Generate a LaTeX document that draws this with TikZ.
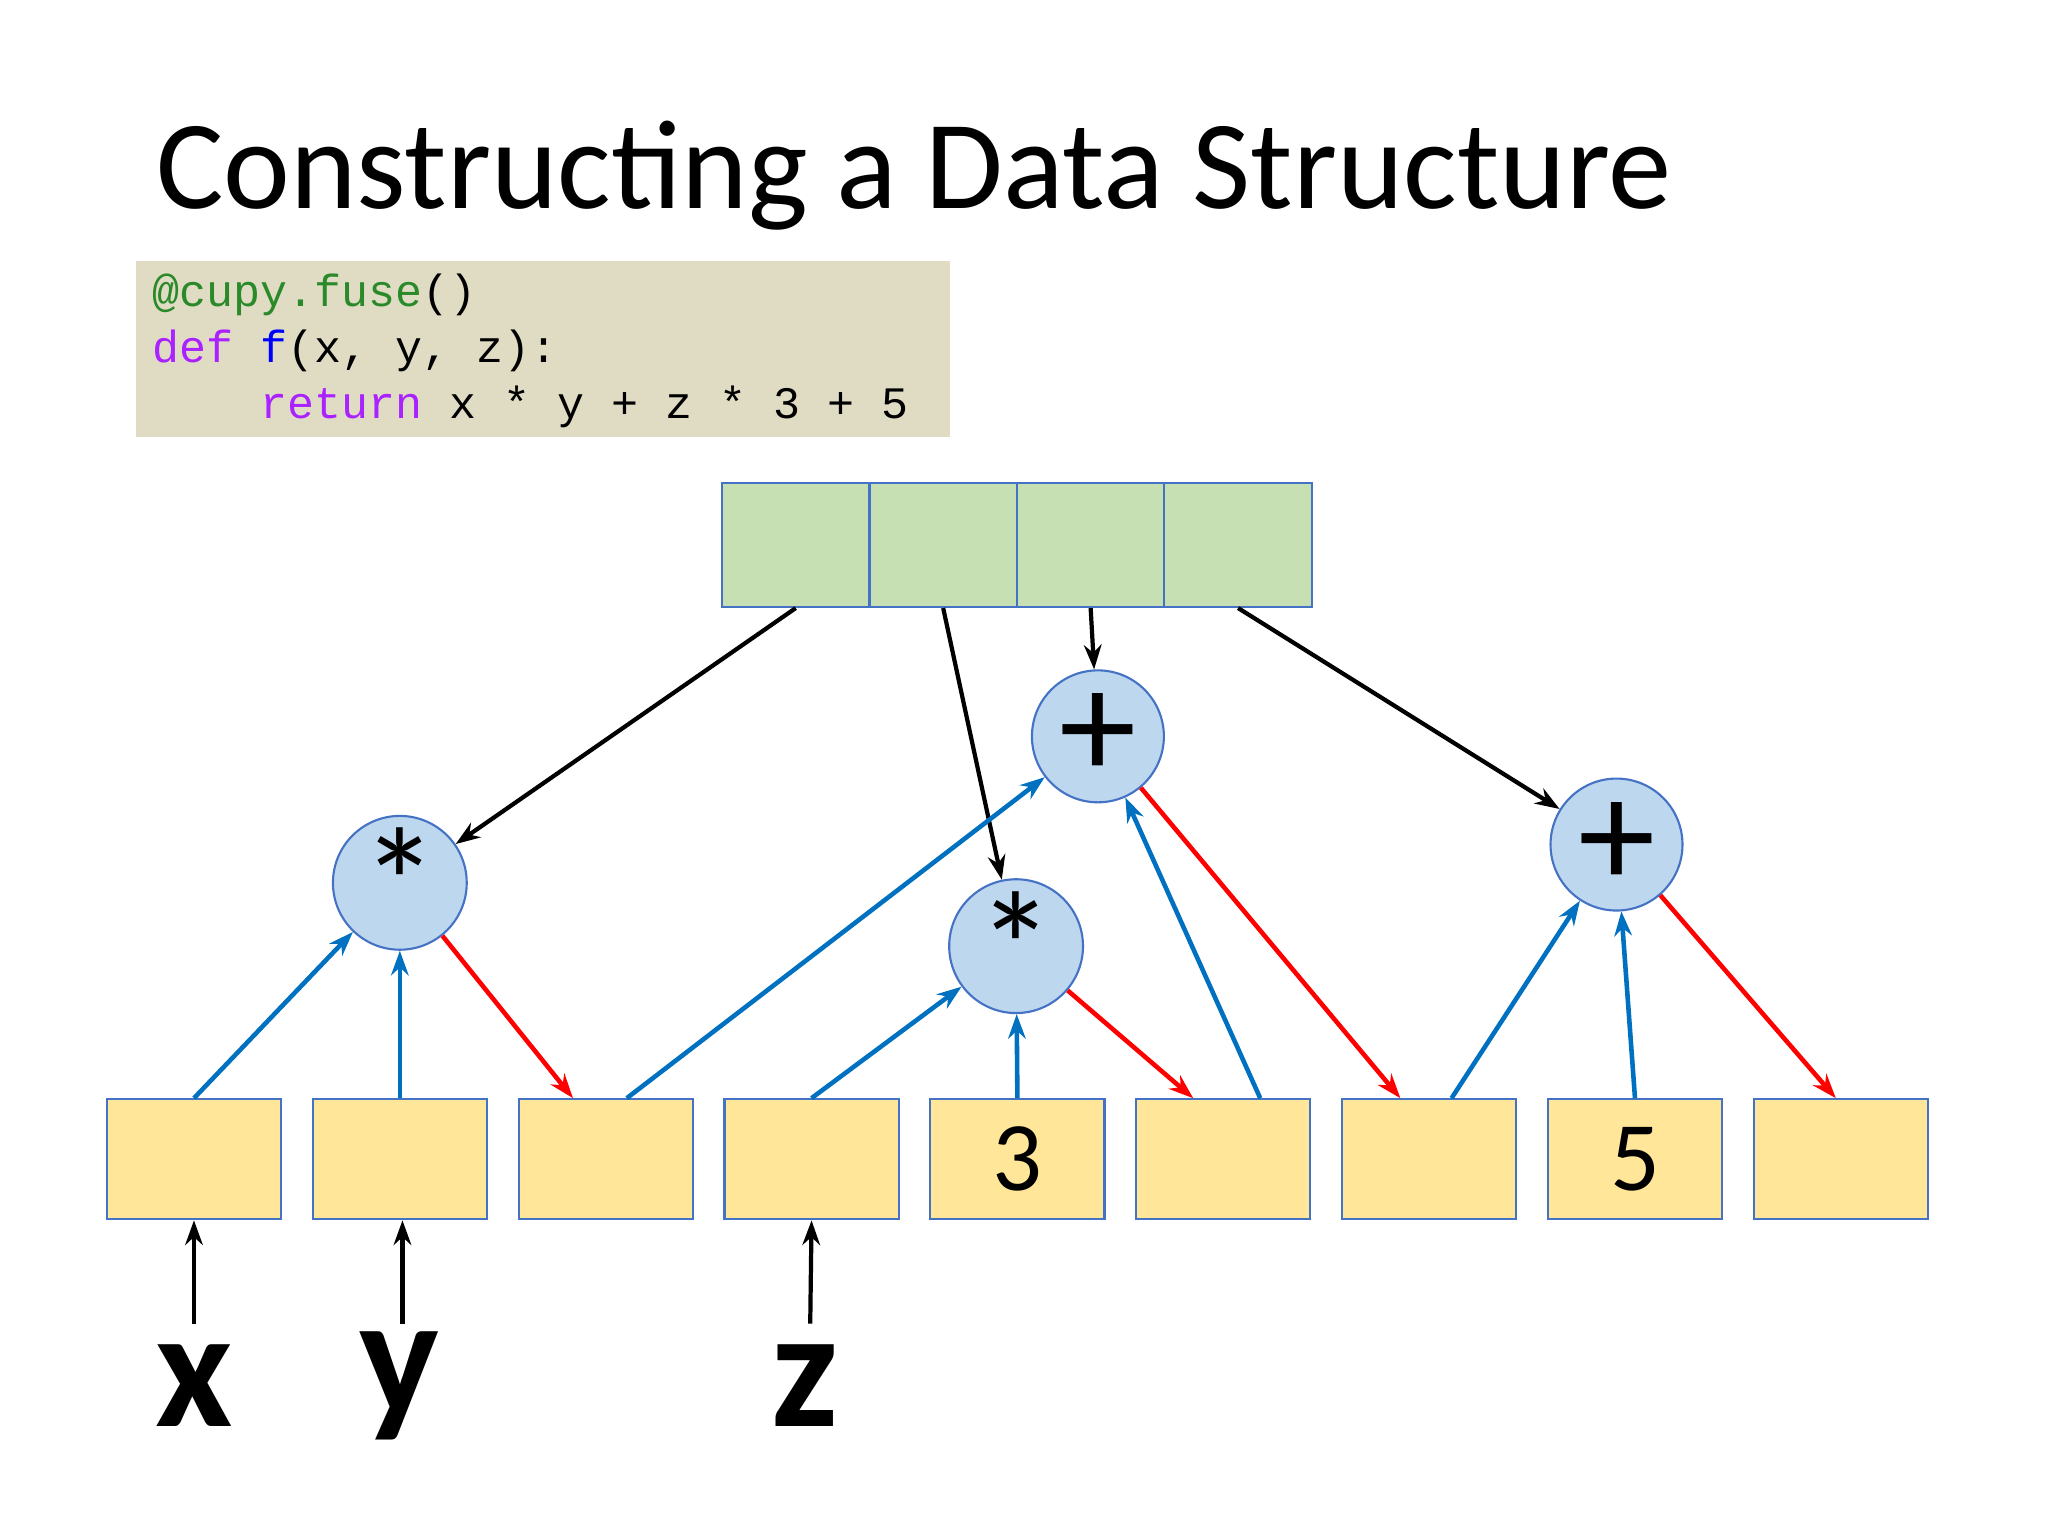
\documentclass[tikz,border=0pt]{standalone}
\usepackage{fontspec}
\setmainfont{Carlito}
\newfontfamily\codefont{Liberation Mono}
\usetikzlibrary{calc,arrows.meta}
\definecolor{codebg}{HTML}{E0DCC4}
\definecolor{cgreen}{HTML}{2A8A2A}
\definecolor{cpurple}{HTML}{AA22FF}
\definecolor{cblue}{HTML}{0000FF}
\definecolor{gfill}{HTML}{C6E0B4}
\definecolor{yfill}{HTML}{FFE699}
\definecolor{bfill}{HTML}{BDD7EE}
\definecolor{edge}{HTML}{4472C4}
\definecolor{barrow}{HTML}{0070C0}
\begin{document}
\begin{tikzpicture}[x=0.013196cm,y=-0.013196cm,
  gcell/.style={draw=edge,fill=gfill,line width=0.6pt,minimum width=111.75*0.013196cm,minimum height=94*0.013196cm,inner sep=0},
  ybox/.style={draw=edge,fill=yfill,line width=0.6pt,minimum width=132*0.013196cm,minimum height=91*0.013196cm,inner sep=0,font=\fontsize{28}{30}\selectfont},
  op/.style={circle,draw=edge,fill=bfill,line width=0.6pt,minimum size=100*0.013196cm,inner sep=0,font=\fontsize{44}{44}\selectfont},
  ka/.style={-{Stealth[length=7pt,width=5pt]},line width=1.2pt,black},
  ba/.style={-{Stealth[length=7pt,width=5pt]},line width=1.3pt,barrow},
  ra/.style={-{Stealth[length=7pt,width=5pt]},line width=1.3pt,red},
  var/.style={font=\bfseries\fontsize{48}{48}\selectfont}]
\useasboundingbox (0,0) rectangle (1552,1164);
\node[anchor=base west,inner sep=0,font=\fontsize{36}{40}\selectfont] (title) at (118,158) {Constructing a Data Structure};
\node[fill=codebg,minimum width=617*0.013196cm,minimum height=133*0.013196cm,inner sep=0] (code) at (411.5,264.5) {};
\begin{scope}[every node/.style={anchor=base west,inner sep=0,font=\codefont\fontsize{12.8}{14}\selectfont}]
\node (l1) at (115,232) {\textcolor{cgreen}{@cupy.fuse}()};
\node (l2) at (115,275) {\textcolor{cpurple}{def} \textcolor{cblue}{f}(x, y, z):};
\node (l3) at (115,317) {\phantom{def }\textcolor{cpurple}{return} x * y + z * 3 + 5};
\end{scope}
\node[gcell] (g1) at (603,413) {};
\node[gcell] (g2) at (714.75,413) {};
\node[gcell] (g3) at (826.5,413) {};
\node[gcell] (g4) at (938.25,413) {};
\node[op] (m1) at (303,669) {*};
\node[op] (m2) at (770,717) {*};
\node[op] (p1) at (832,558) {+};
\node[op] (p2) at (1225,640) {+};
\foreach \i/\x/\t in {1/147/,2/303/,3/459/,4/615/,5/771/3,6/927/,7/1083/,8/1239/5,9/1395/}
  \node[ybox] (b\i) at (\x,878.5) {\t};
\draw[ka] (g1.south) -- (m1);
\draw[ka] (g2.south) -- (m2);
\draw[ka] (g3.south) -- (p1);
\draw[ka] (g4.south) -- (p2);
\draw[ba] (b1.north) -- (m1);
\draw[ba] (b2.north) -- (m1);
\draw[ba] ($(b3.north)+(16,0)$) -- (p1);
\draw[ba] (b4.north) -- (m2);
\draw[ba] (b5.north) -- (m2);
\draw[ba] ($(b6.north)+(28,0)$) -- (p1);
\draw[ba] ($(b7.north)+(17,0)$) -- (p2);
\draw[ba] (b8.north) -- (p2);
\draw[ra] (m1) -- ($(b3.north west)+(42,0)$);
\draw[ra] (m2) -- ($(b6.north west)+(44,0)$);
\draw[ra] (p1) -- ($(b7.north west)+(45,0)$);
\draw[ra] (p2) -- ($(b9.north west)+(63,0)$);
\node[var] (x) at (147,1050) {x};
\node[var] (y) at (303,1050) {y};
\node[var] (z) at (610,1050) {z};
\coordinate (xs) at (147,1003);
\coordinate (ys) at (305,1003);
\coordinate (zs) at (614,1003);
\draw[ka] (xs) -- (b1.south);
\draw[ka] (ys) -- ($(b2.south)+(2,0)$);
\draw[ka] (zs) -- (b4.south);
\end{tikzpicture}
\end{document}
